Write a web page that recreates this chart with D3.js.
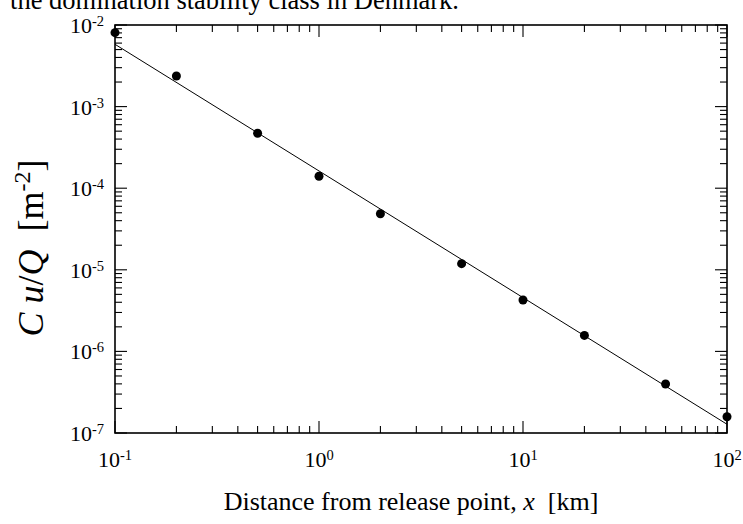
<!DOCTYPE html>
<html>
<head>
<meta charset="utf-8">
<script src="https://cdn.jsdelivr.net/npm/d3@7"></script>
<style>
  html, body { margin: 0; padding: 0; background: #fff; }
  svg { display: block; font-family: "Liberation Serif", "Times New Roman", serif; }
</style>
</head>
<body>
<svg id="chart" width="743" height="524"></svg>
<script>
// ---- data ----
const distances = [0.1, 0.2, 0.5, 1, 2, 5, 10, 20, 50, 100];          // km
const concentrations = [8.05e-3, 2.37e-3, 4.71e-4, 1.40e-4, 4.87e-5,
                        1.19e-5, 4.27e-6, 1.57e-6, 3.98e-7, 1.58e-7]; // Cu/Q m^-2
const fitX = [0.1, 100];
const fitY = [5.80e-3, 1.28e-7];
const xTickExponents = [-1, 0, 1, 2];
const yTickExponents = [-7, -6, -5, -4, -3, -2];
const titleText = "the domination stability class in Denmark.";

// ---- layout ----
const L = 115, R = 727, T = 25, B = 433;
const svg = d3.select("#chart");

const x = d3.scaleLog().domain([0.1, 100]).range([L, R]);
const y = d3.scaleLog().domain([1e-7, 1e-2]).range([B, T]);

// partial caption at very top (cut off)
svg.append("text")
  .attr("x", 459).attr("y", 9)
  .attr("text-anchor", "end")
  .attr("font-size", 26.5)
  .text(titleText);

// fit line
svg.append("line")
  .attr("x1", x(fitX[0])).attr("y1", y(fitY[0]))
  .attr("x2", x(fitX[1])).attr("y2", y(fitY[1]))
  .attr("stroke", "#000").attr("stroke-width", 1);

// ticks (inward, all four sides)
const majorLen = 12, minorLen = 7;
const isMajor = v => Math.abs(Math.log10(v) - Math.round(Math.log10(v))) < 1e-9;
const g = svg.append("g").attr("stroke", "#000").attr("stroke-width", 1.1);
x.ticks().forEach(v => {
  const len = isMajor(v) ? majorLen : minorLen;
  const px = x(v);
  g.append("line").attr("x1", px).attr("x2", px).attr("y1", B).attr("y2", B - len);
  g.append("line").attr("x1", px).attr("x2", px).attr("y1", T).attr("y2", T + len);
});
y.ticks().forEach(v => {
  const len = isMajor(v) ? majorLen : minorLen;
  const py = y(v);
  g.append("line").attr("y1", py).attr("y2", py).attr("x1", L).attr("x2", L + len);
  g.append("line").attr("y1", py).attr("y2", py).attr("x1", R).attr("x2", R - len);
});

// frame
svg.append("rect")
  .attr("x", L).attr("y", T).attr("width", R - L).attr("height", B - T)
  .attr("fill", "none").attr("stroke", "#000").attr("stroke-width", 1.6);

// tick labels
function powLabel(sel, e) {
  sel.append("tspan").text("10");
  sel.append("tspan").attr("dy", -7).attr("font-size", 14.5).text(String(e));
}
xTickExponents.forEach(e => {
  const t = svg.append("text")
    .attr("x", x(Math.pow(10, e))).attr("y", 467)
    .attr("text-anchor", "middle").attr("font-size", 22);
  powLabel(t, e);
});
yTickExponents.forEach(e => {
  const t = svg.append("text")
    .attr("x", 104).attr("y", y(Math.pow(10, e)) + 8)
    .attr("text-anchor", "end").attr("font-size", 22);
  powLabel(t, e);
});

// data points
svg.append("g").selectAll("circle")
  .data(distances.map((d, i) => [d, concentrations[i]]))
  .join("circle")
  .attr("cx", d => x(d[0])).attr("cy", d => y(d[1]))
  .attr("r", 4.5).attr("fill", "#000");

// x axis title
const xt2 = svg.append("text")
  .attr("x", (L + R) / 2 - 10).attr("y", 510)
  .attr("text-anchor", "middle").attr("font-size", 26)
  .attr("xml:space", "preserve");
xt2.append("tspan").text("Distance from release point, ");
xt2.append("tspan").attr("font-style", "italic").text("x");
xt2.append("tspan").text("  [km]");

// y axis title
const yt2 = svg.append("text")
  .attr("transform", "translate(43,248) rotate(-90)")
  .attr("text-anchor", "middle").attr("font-size", 36)
  .attr("xml:space", "preserve");
yt2.append("tspan").attr("font-style", "italic").text("C u");
yt2.append("tspan").text("/");
yt2.append("tspan").attr("font-style", "italic").text("Q");
yt2.append("tspan").text("  [m");
yt2.append("tspan").attr("dy", -13).attr("font-size", 24).text("-2");
yt2.append("tspan").attr("dy", 13).text("]");
</script>
</body>
</html>
